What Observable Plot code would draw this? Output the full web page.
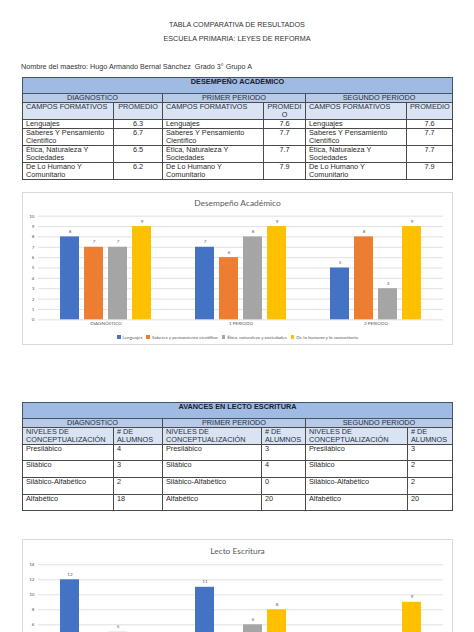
<!DOCTYPE html>
<html><head><meta charset="utf-8">
<script src="https://cdn.jsdelivr.net/npm/d3@7"></script>
<script src="https://cdn.jsdelivr.net/npm/@observablehq/plot@0.6"></script>
<style>
html,body{margin:0;padding:0;background:#fff;width:474px;height:632px;overflow:hidden;}
body{position:relative;font-family:"Liberation Sans",Arial,sans-serif;color:#222;}
.t{position:absolute;left:0;width:474px;text-align:center;font-size:7.2px;line-height:9px;color:#333;}
.n{position:absolute;left:21px;font-size:7.2px;line-height:9px;color:#333;white-space:pre;}
table{position:absolute;left:22px;border-collapse:collapse;table-layout:fixed;width:430px;font-size:7.3px;line-height:8px;}
td{border:1px solid #4a4a4a;padding:0 3px;vertical-align:top;white-space:pre;overflow:hidden;color:#2a2a2a;}
tr.title td{background:#9fbae3;font-weight:bold;text-align:center;color:#1a1a2a;border-color:#44546a;}
tr.sub td{background:#b7cae8;text-align:center;color:#2a3040;}
tr.head td{background:#d9e3f4;color:#2a3040;}
td.c{text-align:center;}
.box{position:absolute;left:22px;width:429px;border:1px solid #d9d9d9;background:#fff;}
.box svg{position:absolute;left:0;top:0;}
.ctitle{position:absolute;left:0;width:429px;text-align:center;font-family:Lato,"Open Sans",sans-serif;font-size:8.4px;color:#595959;}
.legend{position:absolute;left:0;width:429px;display:flex;justify-content:center;gap:4px;font-family:Lato,"Open Sans",sans-serif;font-size:4.6px;color:#595959;}
.legend span{display:inline-flex;align-items:center;}
.legend i{display:inline-block;width:3.5px;height:3.5px;margin-right:2px;}
</style>
</head><body>
<div class="t" style="top:20px">TABLA COMPARATIVA DE RESULTADOS</div>
<div class="t" style="top:34px">ESCUELA PRIMARIA: LEYES DE REFORMA</div>
<div class="n" style="top:62px">Nombre del maestro: Hugo Armando Bernal Sánchez  Grado 3° Grupo A</div>

<table id="t1" style="top:77px">
<colgroup><col style="width:91px"><col style="width:49px"><col style="width:101px"><col style="width:42px"><col style="width:101px"><col style="width:46px"></colgroup>
</table>
<table id="t2" style="top:402px">
<colgroup><col style="width:91px"><col style="width:49px"><col style="width:99px"><col style="width:44px"><col style="width:102px"><col style="width:45px"></colgroup>
</table>

<div class="box" id="c1" style="top:192px;height:151px">
  <div class="ctitle" style="top:5px">Desempeño Académico</div>
  <div class="legend" id="lg1" style="top:141px"></div>
</div>
<div class="box" id="c2" style="top:539px;height:100px;overflow:hidden">
  <div class="ctitle" style="top:6px">Lecto Escritura</div>
</div>

<script>
// ---- Table 1 data ----
const periodosTabla = ["DIAGNOSTICO", "PRIMER PERIODO", "SEGUNDO PERIODO"];
const camposFormativos = ["Lenguajes", "Saberes Y Pensamiento\nCientífico", "Ética, Naturaleza Y\nSociedades", "De Lo Humano Y\nComunitario"];
const promedioDiagnostico = ["6.3", "6.7", "6.5", "6.2"];
const promedioPrimer = ["7.6", "7.7", "7.7", "7.9"];
const promedioSegundo = ["7.6", "7.7", "7.7", "7.9"];

// ---- Table 2 data ----
const nivelesConceptualizacion = ["Presilábico", "Silábico", "Silábico-Alfabético", "Alfabético"];
const alumnosDiagnostico = [4, 3, 2, 18];
const alumnosPrimer = [3, 4, 0, 20];
const alumnosSegundo = [3, 2, 2, 20];

// ---- Chart 1 data ----
const periodosGrafica = ["DIAGNÓSTICO", "1 PERIODO", "2 PERIODO"];
const seriesDesempeno = ["Lenguajes", "Saberes y pensamiento científico", "Ética, naturaleza y sociedades", "De lo humano y lo comunitario"];
const desempenoLenguajes = [8, 7, 5];
const desempenoSaberes = [7, 6, 8];
const desempenoEtica = [7, 8, 3];
const desempenoHumano = [9, 9, 9];

// ---- Chart 2 data (only the upper part is visible on the page) ----
const seriesLecto = ["Presilábico", "Silábico", "Silábico-Alfabético", "Alfabético"];
const lectoPresilabico = [12, 11, 3];
const lectoSilabico = [3, 2, 2];
const lectoSilabicoAlfabetico = [5, 6, 1];
const lectoAlfabetico = [2, 8, 9];
const lectoTicks = [6, 8, 10, 12, 14];

const paleta = ["#4472c4", "#ed7d31", "#a5a5a5", "#ffc000"];

function esc(s){return String(s).replace(/&/g,"&amp;").replace(/</g,"&lt;");}

// Table 1
{
  const t = document.getElementById("t1");
  let h = `<tr class="title" style="height:16px"><td colspan="6">DESEMPEÑO ACADÉMICO</td></tr>`;
  h += `<tr class="sub" style="height:9px">` + periodosTabla.map(p => `<td colspan="2">${p}</td>`).join("") + `</tr>`;
  h += `<tr class="head" style="height:16px"><td>CAMPOS FORMATIVOS</td><td class="c">PROMEDIO</td><td>CAMPOS FORMATIVOS</td><td class="c">PROMEDI\nO</td><td>CAMPOS FORMATIVOS</td><td class="c">PROMEDIO</td></tr>`;
  const hs = [9, 16, 17, 17];
  camposFormativos.forEach((c, i) => {
    h += `<tr style="height:${hs[i]}px"><td>${esc(c)}</td><td class="c">${promedioDiagnostico[i]}</td><td>${esc(c)}</td><td class="c">${promedioPrimer[i]}</td><td>${esc(c)}</td><td class="c">${promedioSegundo[i]}</td></tr>`;
  });
  t.insertAdjacentHTML("beforeend", h);
}
// Table 2
{
  const t = document.getElementById("t2");
  let h = `<tr class="title" style="height:16px"><td colspan="6">AVANCES EN LECTO ESCRITURA</td></tr>`;
  h += `<tr class="sub" style="height:9px">` + periodosTabla.map(p => `<td colspan="2">${p}</td>`).join("") + `</tr>`;
  const nh = `<td>NIVELES DE\nCONCEPTUALIZACIÓN</td><td># DE\nALUMNOS</td>`;
  h += `<tr class="head" style="height:17px">${nh}${nh}${nh}</tr>`;
  const hs = [16, 17, 17, 16];
  nivelesConceptualizacion.forEach((n, i) => {
    h += `<tr style="height:${hs[i]}px"><td>${esc(n)}</td><td>${alumnosDiagnostico[i]}</td><td>${esc(n)}</td><td>${alumnosPrimer[i]}</td><td>${esc(n)}</td><td>${alumnosSegundo[i]}</td></tr>`;
  });
  t.insertAdjacentHTML("beforeend", h);
}

function barChart({groups, names, values, yDomain, yRange, yTicks, height, marginTop, marginBottom, fxAxis, labelMin}) {
  const data = [];
  groups.forEach((g, i) => names.forEach((n, j) => data.push({g, s: n, v: values[j][i]})));
  const yOpts = {domain: yDomain, ticks: yTicks, label: null, tickSize: 0, tickPadding: 4};
  if (yRange) yOpts.range = yRange;
  return Plot.plot({
    width: 429, height, marginLeft: 15, marginRight: 9, marginTop, marginBottom,
    style: {fontFamily: "Lato, 'Open Sans', sans-serif", fontSize: "4.6px", color: "#595959", background: "transparent", overflow: "hidden"},
    facet: {data, x: "g"},
    fx: {domain: groups, padding: 0, label: null, axis: fxAxis, tickSize: 0, tickPadding: 1.5},
    x: {domain: names, paddingInner: 0.224, paddingOuter: 0.867, axis: null},
    y: yOpts,
    color: {domain: names, range: paleta},
    marks: [
      Plot.ruleY(yTicks, {stroke: "#d9d9d9", strokeWidth: 0.8}),
      Plot.barY(data, {x: "s", y: "v", fill: "s"}),
      Plot.text(data, {x: "s", y: "v", text: d => `${d.v}`, dy: -5.5, fill: "#595959", filter: d => d.v >= labelMin})
    ]
  });
}

const c1 = barChart({
  groups: periodosGrafica, names: seriesDesempeno,
  values: [desempenoLenguajes, desempenoSaberes, desempenoEtica, desempenoHumano],
  yDomain: [0, 10], yTicks: d3.range(0, 11), height: 149, marginTop: 22.7, marginBottom: 22.7,
  fxAxis: "bottom", labelMin: 0
});
document.getElementById("c1").appendChild(c1);

const lg = document.getElementById("lg1");
seriesDesempeno.forEach((s, i) => {
  lg.insertAdjacentHTML("beforeend", `<span><i style="background:${paleta[i]}"></i>${s}</span>`);
});

// Chart 2 is cut by the page edge: the SVG ends at the page bottom, the y=0 baseline lies below it
const c2 = barChart({
  groups: periodosGrafica, names: seriesLecto,
  values: [lectoPresilabico, lectoSilabico, lectoSilabicoAlfabetico, lectoAlfabetico],
  yDomain: [0, 14], yRange: [129.3, 24.3], yTicks: lectoTicks, height: 92, marginTop: 24.3, marginBottom: 0,
  fxAxis: null, labelMin: 5
});
document.getElementById("c2").appendChild(c2);
</script>
</body></html>
